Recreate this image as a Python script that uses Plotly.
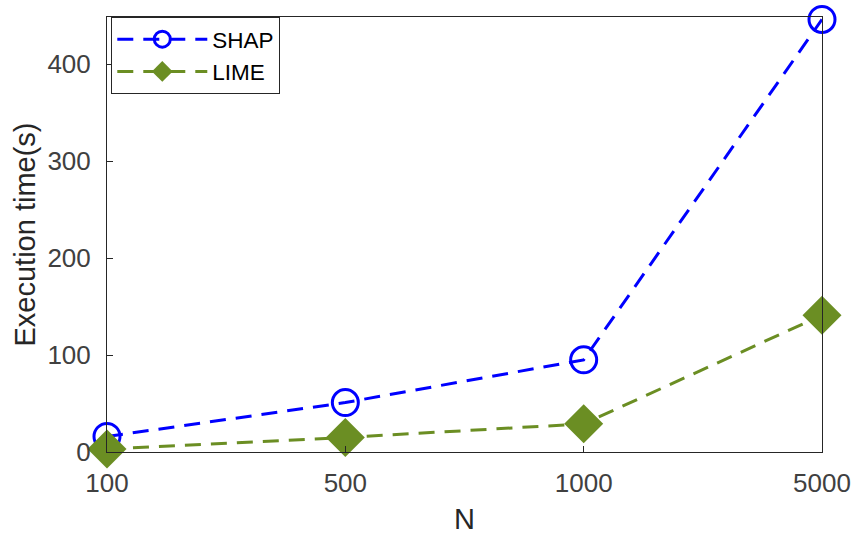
import plotly.graph_objects as go

categories = ["100", "500", "1000", "5000"]
shap_values = [16, 51, 95, 446]
lime_values = [3, 15, 29, 141]
y_ticks = [0, 100, 200, 300, 400]

font_family = "Liberation Sans, Arial, sans-serif"
text_color = "#262626"

fig = go.Figure()
fig.add_trace(go.Scatter(
    x=categories, y=shap_values, name="SHAP", mode="lines+markers",
    line=dict(color="#0000FF", width=3, dash="16px,10px"),
    marker=dict(symbol="circle-open", size=26, color="#0000FF", line=dict(width=3, color="#0000FF")),
    cliponaxis=False,
))
fig.add_trace(go.Scatter(
    x=categories, y=lime_values, name="LIME", mode="lines+markers",
    line=dict(color="#6B8E23", width=3, dash="16px,10px"),
    marker=dict(symbol="diamond", size=30, color="#6B8E23", line=dict(width=0)),
    cliponaxis=False,
))

fig.update_layout(
    width=857, height=535,
    margin=dict(l=107, r=35, t=17, b=83),
    plot_bgcolor="white", paper_bgcolor="white",
    font=dict(family=font_family, color=text_color, size=26),
    showlegend=True,
    legend=dict(
        x=0.006, y=1.0, xanchor="left", yanchor="top",
        bordercolor="#262626", borderwidth=1, bgcolor="white",
        font=dict(size=22.5, color="#000000"),
        itemwidth=90, tracegroupgap=0,
    ),
)
fig.update_xaxes(
    type="category", range=[0, 3], automargin=False,
    showline=True, linecolor="#262626", linewidth=1, mirror=True,
    ticks="inside", ticklen=6, tickcolor="#262626",
    showgrid=False, zeroline=False,
    title=dict(text="N", standoff=12, font=dict(size=29)),
    tickfont=dict(size=26, color="#404040"),
    ticklabelstandoff=8,
)
fig.update_yaxes(
    range=[0, 448.5], automargin=False,
    tickvals=y_ticks, ticktext=[str(v) for v in y_ticks],
    showline=True, linecolor="#262626", linewidth=1, mirror=True,
    ticks="inside", ticklen=6, tickcolor="#262626",
    showgrid=False, zeroline=False,
    title=dict(text="Execution time(s)", standoff=3, font=dict(size=29)),
    tickfont=dict(size=26, color="#404040"),
    ticklabelstandoff=10,
)

fig.write_html(
    "out.html",
    config={"displayModeBar": False},
    post_script="document.body.style.margin='0';",
)
